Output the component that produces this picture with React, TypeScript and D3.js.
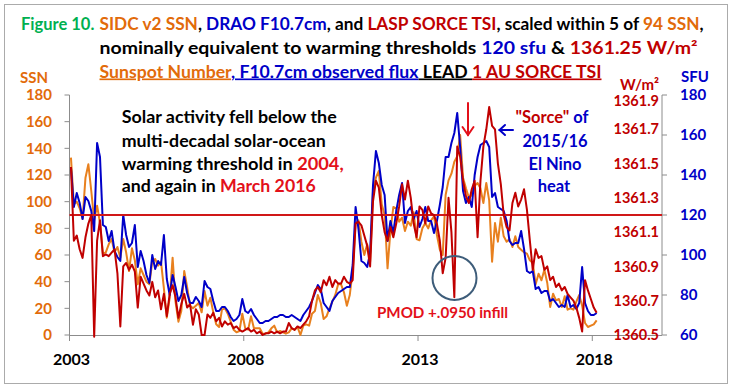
import * as d3 from "d3";

// monthly values, Jan 2003 .. Feb 2018 (mid-month)
const START_YEAR = 2003;

const ssn = [
  133, 98, 100, 95, 87, 118, 128, 108, 86, 97, 84, 61,
  62, 68, 72, 62, 66, 58, 72, 62, 48, 65, 56, 38,
  50, 45, 40, 38, 55, 57, 52, 55, 35, 13, 28, 58,
  25, 10, 18, 48, 36, 22, 20, 22, 24, 17, 33, 22,
  28, 17, 8, 6, 19, 20, 16, 10, 4, 2, 3, 16,
  5, 4, 14, 5, 5, 5, 1, 1, 2, 5, 7, 2,
  3, 2, 1, 2, 5, 4, 6, 0, 7, 8, 7, 16,
  18, 30, 24, 12, 14, 20, 25, 30, 38, 38, 32, 22,
  30, 48, 84, 86, 70, 60, 68, 55, 108, 118, 123, 98,
  90, 50, 78, 96, 95, 85, 88, 78, 85, 82, 92, 72,
  71, 80, 84, 80, 86, 89, 75, 64, 60, 105, 116, 121,
  130, 134, 150, 118, 110, 103, 105, 112, 114, 110, 99, 114,
  101, 55, 84, 70, 88, 74, 70, 72, 66, 74, 66, 64,
  62, 61, 56, 54, 38, 46, 41, 49, 39, 21, 31, 26,
  27, 21, 29, 19, 20, 19, 25, 30, 22, 9, 6, 7,
  8, 11,
];

const sfu = [
  144, 124, 131, 126, 118, 129, 127, 122, 112, 156, 149, 115,
  114, 107, 112, 102, 99, 97, 120, 110, 104, 106, 115, 94,
  102, 97, 90, 86, 100, 93, 97, 95, 110, 88, 80, 90,
  84, 77, 80, 89, 81, 76, 76, 79, 77, 74, 87, 84,
  83, 77, 72, 72, 74, 74, 72, 69, 67, 68, 70, 78,
  72, 71, 73, 70, 68, 66, 66, 67, 67, 68, 69, 69,
  70, 70, 69, 69, 70, 69, 68, 67, 70, 72, 74, 77,
  81, 85, 83, 76, 74, 72, 77, 79, 81, 82, 83, 84,
  84, 95, 124, 113, 97, 96, 94, 101, 135, 152, 146, 135,
  130, 107, 117, 111, 122, 130, 136, 116, 122, 124, 118, 122,
  114, 118, 124, 117, 117, 111, 117, 125, 134, 149, 149, 156,
  161, 171, 154, 132, 126, 129, 124, 140, 149, 155, 156, 157,
  154, 129, 131, 124, 123, 122, 117, 107, 105, 106, 106, 112,
  103, 92, 91, 92, 83, 84, 81, 82, 82, 77, 78, 76,
  74, 75, 74, 80, 74, 75, 73, 76, 94, 76, 72, 70,
  70, 71,
];

const tsi = [
  1361.48, 1361.05, 1361.08, 1361.0, 1360.95, 1361.07, 1361.15, 1361.2, 1360.49, 1361.05, 1361.17, 1360.96,
  1360.97, 1360.96, 1360.98, 1361.0, 1360.86, 1360.55, 1360.9, 1360.92, 1360.88, 1360.91, 1360.87, 1360.66,
  1360.84, 1360.8, 1360.76, 1360.73, 1360.81, 1360.72, 1360.76, 1360.65, 1360.74, 1360.61, 1360.74, 1360.79,
  1360.72, 1360.6, 1360.68, 1360.74, 1360.66, 1360.68, 1360.56, 1360.65, 1360.62, 1360.5, 1360.5, 1360.62,
  1360.6, 1360.63, 1360.58, 1360.6, 1360.55, 1360.58, 1360.56, 1360.57, 1360.54, 1360.55, 1360.53, 1360.52,
  1360.53, 1360.54, 1360.52, 1360.53, 1360.51, 1360.52, 1360.5, 1360.51, 1360.51, 1360.52, 1360.51, 1360.52,
  1360.51, 1360.52, 1360.52, 1360.57, 1360.54, 1360.53, 1360.55, 1360.54, 1360.56, 1360.58, 1360.61, 1360.7,
  1360.76, 1360.78, 1360.75, 1360.82, 1360.79, 1360.84, 1360.78, 1360.82, 1360.8, 1360.8, 1360.84, 1360.81,
  1360.8, 1360.82, 1361.15, 1361.16, 1361.14, 1361.08, 1361.02, 1360.9, 1361.28, 1361.4, 1361.36, 1361.2,
  1361.1, 1361.05, 1361.13, 1361.07, 1361.15, 1361.25, 1361.38, 1361.29, 1361.4, 1361.3, 1361.15, 1361.07,
  1361.25, 1361.23, 1361.15, 1361.25, 1361.21, 1361.2, 1361.15, 1361.05, 1360.86, 1360.95, 1361.3, 1361.1,
  1360.72, 1361.6, 1361.54, 1361.4, 1361.31, 1361.27, 1361.35, 1361.4, 1361.07, 1361.4, 1361.6, 1361.7,
  1361.83, 1361.72, 1361.7, 1361.5, 1361.38, 1361.2, 1361.13, 1361.11, 1361.27, 1361.33, 1361.25, 1361.29,
  1361.35, 1361.23, 1361.05, 1360.88, 1361.0, 1360.95, 1360.96, 1360.88, 1360.9, 1360.82, 1360.84, 1360.78,
  1360.8, 1360.76, 1360.78, 1360.74, 1360.72, 1360.7, 1360.66, 1360.6, 1360.52, 1360.82, 1360.76, 1360.71,
  1360.66, 1360.63,
];

const xTicks = [2003, 2008, 2013, 2018];
const ssnTicks = [0, 20, 40, 60, 80, 100, 120, 140, 160, 180];
const sfuTicks = [60, 80, 100, 120, 140, 160, 180];
const tsiTicks = [1360.5, 1360.7, 1360.9, 1361.1, 1361.3, 1361.5, 1361.7, 1361.9];
const sfuThreshold = 120;

const W = 733;
const H = 389;
const plot = { left: 69.5, right: 662, top: 95, bottom: 335 };

const ORANGE = "#E8801E";
const ORANGE_TXT = "#E26B0A";
const BLUE = "#0000C8";
const DARKRED = "#C00000";
const RED = "#E3101A";
const FONT = "Lato, 'Liberation Sans', sans-serif";

export default function App() {
  const x = d3.scaleLinear([2003, 2020], [plot.left, plot.right]);
  const ySsn = d3.scaleLinear([0, 180], [plot.bottom, plot.top]);
  const ySfu = d3.scaleLinear([60, 180], [plot.bottom, plot.top]);
  const yTsi = d3.scaleLinear([1360.5, 1361.9], [plot.bottom, plot.top]);

  const monthX = (i: number) => x(START_YEAR + (i + 0.5) / 12);
  const mkLine = (y: any) => d3.line<number>((_, i) => monthX(i), (v) => y(v));

  const yThr = ySfu(sfuThreshold);

  return (
    <svg width={W} height={H} style={{ display: "block", background: "#fff" }} fontFamily={FONT} fontWeight="bold">
      <style>{`body{margin:0}`}</style>
      <rect x={4.5} y={4.5} width={723} height={379} fill="#fff" stroke="#ABABAB" />

      {/* titles */}
      <text x={21} y={30} fontSize={16.5} fill="#00B050">Figure 10.</text>
      <text x={99.5} y={30} fontSize={16.5} textLength={604} lengthAdjust="spacingAndGlyphs">
        <tspan fill={ORANGE_TXT}>SIDC v2 SSN</tspan>
        <tspan fill="#000">, </tspan>
        <tspan fill={BLUE}>DRAO F10.7cm</tspan>
        <tspan fill="#000">, and </tspan>
        <tspan fill={DARKRED}>LASP SORCE TSI</tspan>
        <tspan fill="#000">, scaled within 5 of </tspan>
        <tspan fill={ORANGE_TXT}>94 SSN</tspan>
        <tspan fill="#000">,</tspan>
      </text>
      <text x={99.5} y={53.5} fontSize={16.5} textLength={598} lengthAdjust="spacingAndGlyphs">
        <tspan fill="#000">nominally equivalent to warming thresholds </tspan>
        <tspan fill={BLUE}>120 sfu</tspan>
        <tspan fill="#000"> &amp; </tspan>
        <tspan fill={DARKRED}>1361.25 W/m²</tspan>
      </text>
      <text x={99.5} y={77.5} fontSize={16.5} textLength={502} lengthAdjust="spacingAndGlyphs">
        <tspan fill={ORANGE_TXT} textDecoration="underline">Sunspot Number</tspan>
        <tspan fill={BLUE} textDecoration="underline">, F10.7cm observed flux</tspan>
        <tspan fill="#000" textDecoration="underline"> LEAD </tspan>
        <tspan fill={DARKRED} textDecoration="underline">1 AU SORCE TSI</tspan>
      </text>

      {/* axis titles */}
      <text x={20} y={83} fontSize={15} fill={ORANGE_TXT}>SSN</text>
      <text x={620} y={90} fontSize={15} fill={DARKRED}>W/m²</text>
      <text x={681} y={82} fontSize={15} fill={BLUE}>SFU</text>

      {/* axes */}
      <g stroke="#8C8C8C" strokeWidth={1} fill="none">
        <line x1={plot.left} x2={plot.left} y1={plot.top} y2={plot.bottom} />
        <line x1={plot.right} x2={plot.right} y1={plot.top} y2={plot.bottom} />
        <line x1={plot.left} x2={plot.right} y1={plot.bottom + 0.5} y2={plot.bottom + 0.5} />
        {ssnTicks.map((t) => (
          <line key={"l" + t} x1={plot.left - 5} x2={plot.left} y1={ySsn(t)} y2={ySsn(t)} />
        ))}
        {sfuTicks.map((t) => (
          <line key={"r" + t} x1={plot.right} x2={plot.right + 5} y1={ySfu(t)} y2={ySfu(t)} />
        ))}
        {xTicks.map((t) => (
          <line key={"x" + t} x1={x(t)} x2={x(t)} y1={plot.bottom} y2={plot.bottom + 6} />
        ))}
      </g>

      {ssnTicks.map((t) => (
        <text key={t} x={52} y={ySsn(t)} dy="0.35em" textAnchor="end" fontSize={15} fill={ORANGE_TXT}>{t}</text>
      ))}
      {sfuTicks.map((t) => (
        <text key={t} x={680} y={ySfu(t)} dy="0.35em" fontSize={15} fill={BLUE}>{t}</text>
      ))}
      {tsiTicks.map((t, i) => (
        <text key={t} x={659} y={yTsi(t) + (i === tsiTicks.length - 1 ? 6 : 0)} dy="0.35em" textAnchor="end" fontSize={14.5} fill={DARKRED}>
          {t.toFixed(1)}
        </text>
      ))}
      {xTicks.map((t) => (
        <text key={t} x={x(t) + 2} y={365} textAnchor="middle" fontSize={16} fill="#000">{t}</text>
      ))}

      {/* series */}
      <path d={mkLine(ySsn)(ssn) || ""} fill="none" stroke={ORANGE} strokeWidth={2} strokeLinejoin="round" />
      <path d={mkLine(ySfu)(sfu) || ""} fill="none" stroke={BLUE} strokeWidth={2} strokeLinejoin="round" />
      <line x1={plot.left} x2={plot.right} y1={yThr} y2={yThr} stroke="#D01818" strokeWidth={2} />
      <path d={mkLine(yTsi)(tsi) || ""} fill="none" stroke={DARKRED} strokeWidth={2} strokeLinejoin="round" />

      {/* annotations */}
      <g fontSize={16.5} fill="#000">
        <text x={121.7} y={123} textLength={215} lengthAdjust="spacingAndGlyphs">Solar activity fell below the</text>
        <text x={121.7} y={146.5} textLength={204} lengthAdjust="spacingAndGlyphs">multi-decadal solar-ocean</text>
        <text x={121.7} y={169.5} textLength={222} lengthAdjust="spacingAndGlyphs">
          warming threshold in <tspan fill={RED}>2004,</tspan>
        </text>
        <text x={121.7} y={192} textLength={194} lengthAdjust="spacingAndGlyphs">
          and again in <tspan fill={RED}>March 2016</tspan>
        </text>
      </g>
      <g fontSize={16.5} fill={BLUE} textAnchor="middle">
        <text x={552} y={123}><tspan fill={DARKRED}>"Sorce"</tspan> of</text>
        <text x={555} y={146.5}>2015/16</text>
        <text x={555} y={170}>El Nino</text>
        <text x={554} y={192}>heat</text>
      </g>
      <text x={377} y={318} fontSize={16} fill={RED} textLength={131} lengthAdjust="spacingAndGlyphs">PMOD +.0950 infill</text>

      <circle cx={454.5} cy={278} r={22} fill="none" stroke="#3E5D7A" strokeWidth={2} />
      <g fill="none" stroke={RED} strokeWidth={2} strokeLinecap="round">
        <line x1={468} x2={468} y1={103} y2={135} />
        <polyline points="462.5,127 468,135 473.5,127" />
      </g>
      <g fill="none" stroke={BLUE} strokeWidth={2} strokeLinecap="round">
        <line x1={499.5} x2={513} y1={130} y2={130} />
        <polyline points="505,125 499.5,130 505,135" />
      </g>
    </svg>
  );
}
